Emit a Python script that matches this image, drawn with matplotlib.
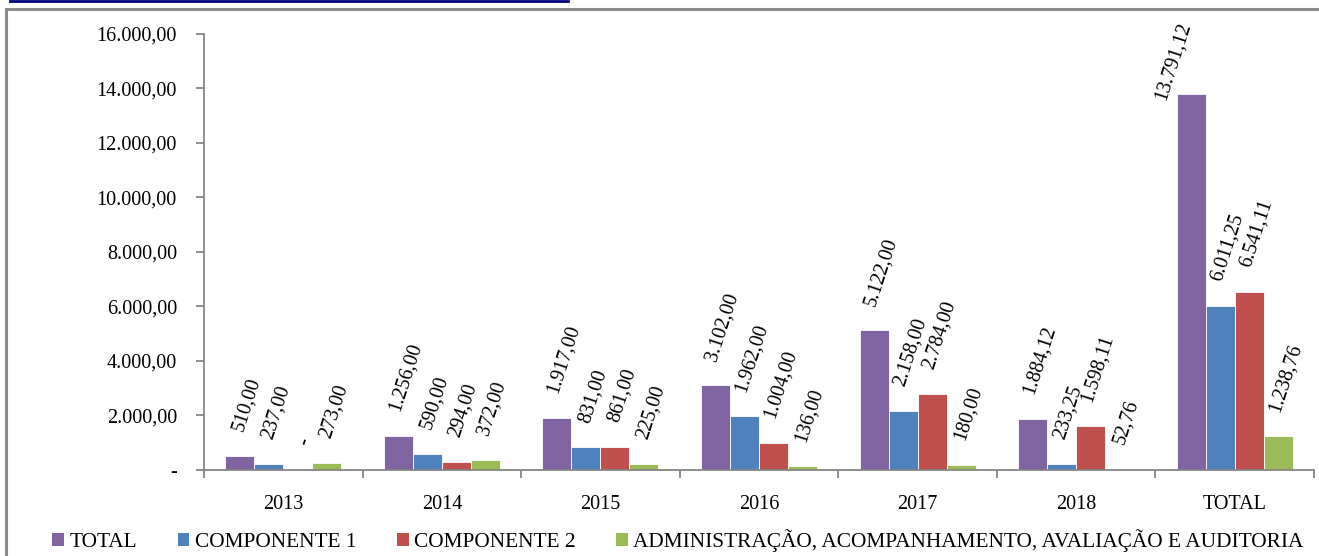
import matplotlib
matplotlib.use("Agg")
import matplotlib.pyplot as plt
from matplotlib.patches import Patch
from matplotlib.lines import Line2D
import numpy as np

categories = ["2013", "2014", "2015", "2016", "2017", "2018", "TOTAL"]
series_names = ["TOTAL", "COMPONENTE 1", "COMPONENTE 2",
                "ADMINISTRAÇÃO, ACOMPANHAMENTO, AVALIAÇÃO E AUDITORIA"]
total = [510.00, 1256.00, 1917.00, 3102.00, 5122.00, 1884.12, 13791.12]
comp1 = [237.00, 590.00, 831.00, 1962.00, 2158.00, 233.25, 6011.25]
comp2 = [0.00, 294.00, 861.00, 1004.00, 2784.00, 1598.11, 6541.11]
admin = [273.00, 372.00, 225.00, 136.00, 180.00, 52.76, 1238.76]
colors = ["#8064A2", "#4F81BD", "#C0504D", "#9BBB59"]

plt.rcParams['font.family'] = ['Liberation Serif', 'DejaVu Serif']
FS = 14.5
FS_LAB = 14.5
FS_LEG = 15.4

def br(v):
    if v == 0:
        return "-"
    s = f"{v:,.2f}"
    return s.replace(",", "X").replace(".", ",").replace("X", ".")

W, H = 1319, 556
fig = plt.figure(figsize=(W / 100, H / 100), dpi=100)
ax = fig.add_axes([204 / W, 1 - 470 / H, 1110 / W, (470 - 33.5) / H])

x = np.arange(len(categories))
bw = 0.183
data = [total, comp1, comp2, admin]
axis_col = "#868686"
for i, (vals, c) in enumerate(zip(data, colors)):
    xs = x + (i - 1.5) * bw
    ax.bar(xs, vals, width=bw, color=c, edgecolor="white", linewidth=0.6, zorder=2)
    for xi, v in zip(xs, vals):
        if v > 0.8 * 16000:
            ax.annotate(br(v), xy=(xi, 16000), xytext=(-13, 10),
                        textcoords="offset points", rotation=72,
                        ha="center", va="top", fontsize=FS_LAB,
                        annotation_clip=False)
        else:
            ax.annotate(br(v), xy=(xi, v), xytext=(5, 16),
                        textcoords="offset points", rotation=72,
                        ha="center", va="bottom", fontsize=FS_LAB,
                        annotation_clip=False)

ax.set_ylim(0, 16000)
ax.set_xlim(-0.5, len(categories) - 0.5)
yt = np.arange(0, 16001, 2000)
ax.set_yticks(yt)
ax.set_yticklabels([br(v) for v in yt], fontsize=FS)
ax.set_xticks(np.arange(-0.5, len(categories), 1.0))
ax.set_xticklabels([])
ax.set_xticks(x, minor=True)
ax.set_xticklabels(categories, minor=True, fontsize=FS)
ax.tick_params(axis="x", which="minor", length=0, pad=18)
ax.tick_params(axis="x", which="major", length=6, color=axis_col, width=1.3)
ax.tick_params(axis="y", length=6, color=axis_col, width=1.3, pad=13.5)
for s in ["top", "right"]:
    ax.spines[s].set_visible(False)
for s in ["left", "bottom"]:
    ax.spines[s].set_color(axis_col)
    ax.spines[s].set_linewidth(1.3)

handles = [Patch(facecolor=c, edgecolor="none") for c in colors]
fig.legend(handles, series_names, loc="center", bbox_to_anchor=(678 / W, 1 - 541 / H),
           ncol=4, frameon=False, fontsize=FS_LEG, handlelength=0.55, handleheight=0.55,
           handletextpad=0.25, columnspacing=1.9, borderaxespad=0, borderpad=0)

# chart frame
fig.add_artist(Line2D([6 / W, 6 / W], [0, 1 - 9 / H], color="#8C8C8C", lw=2.2,
                      transform=fig.transFigure))
fig.add_artist(Line2D([6 / W, 1], [1 - 9 / H, 1 - 9 / H], color="#8C8C8C", lw=2.2,
                      transform=fig.transFigure))
# cut-off title underline
fig.add_artist(Line2D([10 / W, 568 / W], [1 - 1 / H, 1 - 1 / H], color="#000080", lw=2,
                      transform=fig.transFigure))

fig.savefig("out.png", dpi=100)
